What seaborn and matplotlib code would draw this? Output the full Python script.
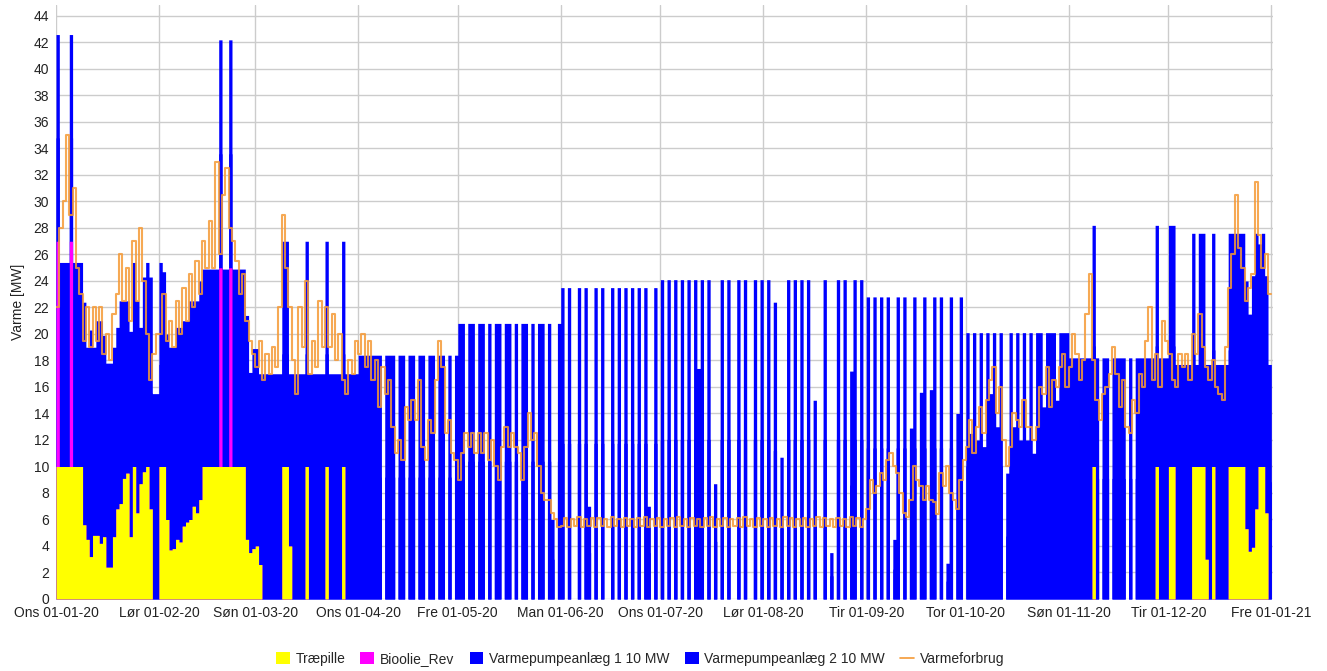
import numpy as np
import pandas as pd
import matplotlib
matplotlib.use("Agg")
import matplotlib.pyplot as plt
import seaborn as sns
from matplotlib.patches import Patch
from matplotlib.lines import Line2D

# Daily heat production and demand for 2020 (366 days), MW
traepille = [
    10, 10, 10, 10, 10, 10, 10, 10, 5.6, 4.5, 3.2, 4.8, 4.8, 4.2, 4.7, 2.4, 2.4, 4.7, 6.8, 7.2, 9.1, 9.5, 4.7, 10, 6.5, 8.7, 9.6, 10, 6.8, 0, 0,
    10, 10, 6, 3.7, 3.8, 4.5, 4.3, 5.5, 5.8, 6, 7, 6.5, 7.5, 10, 10, 10, 10, 10, 10, 10, 10, 10, 10, 10, 10, 10, 4.5, 3.5, 3.8,
    4, 2.6, 0, 0, 0, 0, 0, 0, 10, 10, 4, 0, 0, 0, 0, 10, 0, 0, 0, 0, 0, 10, 0, 0, 0, 0, 10, 0, 0, 0, 0,
    0, 0, 0, 0, 0, 0, 0, 0, 0, 0, 0, 0, 0, 0, 0, 0, 0, 0, 0, 0, 0, 0, 0, 0, 0, 0, 0, 0, 0, 0,
    0, 0, 0, 0, 0, 0, 0, 0, 0, 0, 0, 0, 0, 0, 0, 0, 0, 0, 0, 0, 0, 0, 0, 0, 0, 0, 0, 0, 0, 0, 0,
    0, 0, 0, 0, 0, 0, 0, 0, 0, 0, 0, 0, 0, 0, 0, 0, 0, 0, 0, 0, 0, 0, 0, 0, 0, 0, 0, 0, 0, 0,
    0, 0, 0, 0, 0, 0, 0, 0, 0, 0, 0, 0, 0, 0, 0, 0, 0, 0, 0, 0, 0, 0, 0, 0, 0, 0, 0, 0, 0, 0, 0,
    0, 0, 0, 0, 0, 0, 0, 0, 0, 0, 0, 0, 0, 0, 0, 0, 0, 0, 0, 0, 0, 0, 0, 0, 0, 0, 0, 0, 0, 0, 0,
    0, 0, 0, 0, 0, 0, 0, 0, 0, 0, 0, 0, 0, 0, 0, 0, 0, 0, 0, 0, 0, 0, 0, 0, 0, 0, 0, 0, 0, 0,
    0, 0, 0, 0, 0, 0, 0, 0, 0, 0, 0, 0, 0, 0, 0, 0, 0, 0, 0, 0, 0, 0, 0, 0, 0, 0, 0, 0, 0, 0, 0,
    0, 0, 0, 0, 0, 0, 0, 10, 0, 0, 0, 0, 0, 0, 0, 0, 0, 0, 0, 0, 0, 0, 0, 0, 0, 0, 10, 0, 0, 0,
    10, 10, 0, 0, 0, 0, 0, 10, 10, 10, 10, 3, 0, 10, 0, 0, 0, 0, 10, 10, 10, 10, 10, 5.3, 3.6, 3.9, 6.8, 10, 10, 6.5, 0,
]

# Bio-oil boiler: only a few start-up days
bioolie_days = [0, 4, 49, 52]
bioolie_mw = [17, 17, 15, 15]

vp1 = [
    7.8, 7.7, 7.7, 7.7, 7.8, 7.7, 7.7, 7.7, 8.4, 7.25, 8.55, 7.1, 8.1, 8.4, 7.6, 7.7, 7.7, 7.15, 6.85, 7.65, 6.7, 6.5, 7.75, 7.7, 8, 5.9, 7.35, 7.7, 8.75, 7.75, 7.75,
    7.7, 7.35, 7, 7.65, 7.6, 8, 8.1, 7.75, 7.6, 8.25, 7.75, 8, 8.25, 7.45, 7.45, 7.45, 7.45, 7.45, 8.6, 7.45, 7.45, 8.6, 7.45, 7.45, 7.45, 7.45, 8.45, 6.8, 7.55,
    7.45, 7.2, 8.5, 8.5, 8.5, 8.5, 8.5, 8.5, 8.5, 8.5, 6.5, 8.5, 8.5, 8.5, 8.5, 8.5, 8.5, 8.5, 8.5, 8.5, 8.5, 8.5, 8.5, 8.5, 8.5, 8.5, 8.5, 8.5, 8.5, 8.5, 8.5,
    9.2, 9.2, 9.2, 9.2, 9.2, 9.2, 9.2, 0, 9.2, 9.2, 9.2, 0, 9.2, 9.2, 0, 9.2, 9.2, 0, 9.2, 9.2, 0, 9.2, 9.2, 0, 9.2, 9.2, 0, 9.2, 0, 9.2,
    10.4, 10.4, 0, 10.4, 10.4, 0, 10.4, 10.4, 0, 10.4, 0, 10.4, 10.4, 0, 10.4, 10.4, 0, 10.4, 0, 10.4, 10.4, 0, 10.4, 0, 10.4, 10.4, 0, 10.4, 3, 0, 10.4,
    11.75, 0, 11.75, 0, 0, 11.75, 0, 11.75, 3.5, 0, 11.75, 0, 11.75, 0, 0, 11.75, 0, 11.75, 0, 11.75, 0, 11.75, 0, 11.75, 0, 11.75, 3.5, 0, 11.75, 0,
    12.05, 0, 12.05, 0, 12.05, 0, 12.05, 0, 12.05, 0, 12.05, 8.7, 12.05, 0, 12.05, 0, 4.35, 0, 12.05, 0, 12.05, 0, 0, 12.05, 0, 12.05, 0, 0, 12.05, 0, 12.05,
    0, 12.05, 0, 11.2, 0, 5.35, 0, 12.05, 0, 12.05, 0, 12.05, 0, 12.05, 0, 7.5, 0, 0, 12.05, 0, 1.75, 0, 12.05, 0, 12.05, 0, 8.6, 12.05, 0, 12.05, 0,
    11.4, 0, 11.4, 0, 11.4, 0, 11.4, 0, 2.25, 11.4, 0, 11.4, 0, 6.45, 11.4, 0, 7.8, 11.4, 0, 7.9, 11.4, 0, 11.4, 0, 1.35, 11.4, 0, 7, 11.4, 0,
    10.05, 6.25, 10.05, 6, 10.05, 5.75, 10.05, 7.75, 10.05, 6.5, 10.05, 0, 4.75, 10.05, 6.5, 10.05, 6, 10.05, 6, 10.05, 5.5, 10.05, 10.05, 7.25, 10.05, 10.05, 10.05, 7.5, 10.05, 10.05, 10.05,
    9.1, 9.1, 9.1, 9.1, 9.1, 9.1, 9.1, 9.1, 9.1, 0, 9.1, 9.1, 0, 9.1, 9.1, 9.1, 9.1, 0, 9.1, 0, 9.1, 9.1, 9.1, 9.1, 9.1, 9.1, 9.1, 9.1, 9.1, 9.1,
    9.1, 9.1, 8.85, 8.85, 8.85, 8.85, 8.85, 8.8, 3.85, 8.8, 8.8, 7.35, 8.85, 8.8, 8.85, 8.85, 8.85, 8.85, 8.8, 8.8, 8.8, 8.8, 8.8, 9.35, 8.95, 10.25, 10.4, 8.4, 8.8, 8.95, 8.85,
]

vp2 = [
    7.8, 7.7, 7.7, 7.7, 7.8, 7.7, 7.7, 7.7, 8.4, 7.25, 8.55, 7.1, 8.1, 8.4, 7.6, 7.7, 7.7, 7.15, 6.85, 7.65, 6.7, 6.5, 7.75, 7.7, 8, 5.9, 7.35, 7.7, 8.75, 7.75, 7.75,
    7.7, 7.35, 7, 7.65, 7.6, 8, 8.1, 7.75, 7.6, 8.25, 7.75, 8, 8.25, 7.45, 7.45, 7.45, 7.45, 7.45, 8.6, 7.45, 7.45, 8.6, 7.45, 7.45, 7.45, 7.45, 8.45, 6.8, 7.55,
    7.45, 7.2, 8.5, 8.5, 8.5, 8.5, 8.5, 8.5, 8.5, 8.5, 6.5, 8.5, 8.5, 8.5, 8.5, 8.5, 8.5, 8.5, 8.5, 8.5, 8.5, 8.5, 8.5, 8.5, 8.5, 8.5, 8.5, 8.5, 8.5, 8.5, 8.5,
    9.2, 9.2, 9.2, 9.2, 9.2, 9.2, 9.2, 0, 9.2, 9.2, 9.2, 0, 9.2, 9.2, 0, 9.2, 9.2, 0, 9.2, 9.2, 0, 9.2, 9.2, 0, 9.2, 9.2, 0, 9.2, 0, 9.2,
    10.4, 10.4, 0, 10.4, 10.4, 0, 10.4, 10.4, 0, 10.4, 0, 10.4, 10.4, 0, 10.4, 10.4, 0, 10.4, 0, 10.4, 10.4, 0, 10.4, 0, 10.4, 10.4, 0, 10.4, 3, 0, 10.4,
    11.75, 0, 11.75, 0, 0, 11.75, 0, 11.75, 3.5, 0, 11.75, 0, 11.75, 0, 0, 11.75, 0, 11.75, 0, 11.75, 0, 11.75, 0, 11.75, 0, 11.75, 3.5, 0, 11.75, 0,
    12.05, 0, 12.05, 0, 12.05, 0, 12.05, 0, 12.05, 0, 12.05, 8.7, 12.05, 0, 12.05, 0, 4.35, 0, 12.05, 0, 12.05, 0, 0, 12.05, 0, 12.05, 0, 0, 12.05, 0, 12.05,
    0, 12.05, 0, 11.2, 0, 5.35, 0, 12.05, 0, 12.05, 0, 12.05, 0, 12.05, 0, 7.5, 0, 0, 12.05, 0, 1.75, 0, 12.05, 0, 12.05, 0, 8.6, 12.05, 0, 12.05, 0,
    11.4, 0, 11.4, 0, 11.4, 0, 11.4, 0, 2.25, 11.4, 0, 11.4, 0, 6.45, 11.4, 0, 7.8, 11.4, 0, 7.9, 11.4, 0, 11.4, 0, 1.35, 11.4, 0, 7, 11.4, 0,
    10.05, 6.25, 10.05, 6, 10.05, 5.75, 10.05, 7.75, 10.05, 6.5, 10.05, 0, 4.75, 10.05, 6.5, 10.05, 6, 10.05, 6, 10.05, 5.5, 10.05, 10.05, 7.25, 10.05, 10.05, 10.05, 7.5, 10.05, 10.05, 10.05,
    9.1, 9.1, 9.1, 9.1, 9.1, 9.1, 9.1, 9.1, 9.1, 0, 9.1, 9.1, 0, 9.1, 9.1, 9.1, 9.1, 0, 9.1, 0, 9.1, 9.1, 9.1, 9.1, 9.1, 9.1, 9.1, 9.1, 9.1, 9.1,
    9.1, 9.1, 8.85, 8.85, 8.85, 8.85, 8.85, 8.8, 3.85, 8.8, 8.8, 7.35, 8.85, 8.8, 8.85, 8.85, 8.85, 8.85, 8.8, 8.8, 8.8, 8.8, 8.8, 9.35, 8.95, 10.25, 10.4, 8.4, 8.8, 8.95, 8.85,
]

varmeforbrug = [
    22, 28, 30, 35, 29, 31, 25, 23, 19.5, 22, 19, 22, 19.5, 22, 18.5, 20, 18, 21.5, 23, 26, 22.5, 25, 21, 27, 22.5, 28, 24, 20, 16.5, 18.5, 20,
    20, 23, 19.5, 21, 19, 22.5, 20, 23.5, 21, 24.5, 22, 25.5, 23, 27, 25, 28.5, 25, 33, 26, 30.5, 32.5, 28, 27, 25.5, 23, 24.5, 21, 19.5, 18.5,
    17.5, 19.5, 16.5, 18.5, 17, 19, 17.5, 22, 29, 25, 22, 18, 15.5, 22, 19, 24, 17, 19.5, 17.5, 22.5, 19, 22, 19, 21.5, 18, 20, 16.5, 15.5, 18, 17, 19.5,
    18.5, 20, 17.5, 19.5, 16.5, 18, 14.5, 17.5, 15.5, 16.5, 13, 11, 12, 10.5, 14.5, 13.5, 15, 13.5, 16.5, 11.5, 10.5, 13.5, 12.5, 16.5, 19.5, 17.5, 12.5, 13.5, 11, 10.5,
    9, 11, 12.5, 11.5, 12.5, 11, 12.5, 11, 12.5, 10.5, 12, 10, 9, 11.5, 13, 11.5, 12.5, 11.5, 11, 9, 11.5, 14, 12, 12.5, 10, 8, 7.5, 7.5, 6.5, 6, 5.4,
    5.5, 6.1, 5.4, 6.0, 5.5, 6.2, 5.4, 6.0, 5.5, 6.1, 5.4, 6.1, 5.5, 6.0, 5.4, 6.2, 5.5, 6.0, 5.4, 6.1, 5.5, 6.0, 5.4, 6.1, 5.5, 6.2, 5.4, 6.0, 5.5, 6.1,
    5.4, 6.0, 5.5, 6.1, 5.4, 6.2, 5.5, 6.0, 5.4, 6.1, 5.5, 6.0, 5.4, 6.1, 5.5, 6.2, 5.4, 6.0, 5.5, 6.1, 5.4, 6.0, 5.5, 6.1, 5.4, 6.2, 5.5, 6.0, 5.4, 6.1, 5.5,
    6.0, 5.4, 6.1, 5.5, 6.0, 5.4, 6.2, 5.5, 6.1, 5.4, 6.0, 5.5, 6.1, 5.4, 6.0, 5.5, 6.2, 5.4, 6.1, 5.5, 6.0, 5.4, 6.1, 5.5, 6.0, 5.4, 6.2, 5.5, 6.1, 5.4, 6.0,
    6.8, 9, 8, 8.5, 9.5, 9, 10.5, 11, 10, 9.5, 8, 6.5, 6.2, 7.5, 10, 9, 8.5, 7.5, 8.5, 7.5, 7.3, 6.4, 9.5, 8.5, 10, 8, 7.5, 6.8, 9, 10.5,
    11.5, 13.5, 11, 13, 14.5, 12.5, 15, 16.5, 17.5, 14, 16, 12, 10, 11.5, 14, 13.5, 13, 15, 13, 13, 12, 13, 16, 15.5, 17.5, 14.5, 16.5, 16, 17.5, 18.5, 16,
    17.5, 20, 18.5, 16.5, 18, 21.5, 24.5, 18, 15, 13.5, 15.5, 16, 17, 19, 17, 14.5, 16.5, 13, 12.5, 15, 14, 17, 16, 19.5, 22, 16.5, 18.5, 16, 21, 19.5,
    18.5, 16.5, 16, 18.5, 17.5, 18.5, 16.5, 20, 18.5, 21.5, 19, 17.5, 16.5, 18, 16, 15.5, 15, 19, 23.5, 26, 30.5, 26.5, 25, 22.5, 23.5, 24.5, 31.5, 27.5, 25, 26, 23,
]

month_labels = ["Ons 01-01-20", "Lør 01-02-20", "Søn 01-03-20", "Ons 01-04-20", "Fre 01-05-20",
                "Man 01-06-20", "Ons 01-07-20", "Lør 01-08-20", "Tir 01-09-20", "Tor 01-10-20",
                "Søn 01-11-20", "Tir 01-12-20", "Fre 01-01-21"]
series_names = ["Træpille", "Bioolie_Rev", "Varmepumpeanlæg 1 10 MW",
                "Varmepumpeanlæg 2 10 MW", "Varmeforbrug"]
series_colors = ["#FFFF00", "#FF00FF", "#0000FF", "#0000FF", "#F59A36"]

n_days = len(pd.date_range("2020-01-01", "2020-12-31", freq="D"))
for name, arr in [("traepille", traepille), ("vp1", vp1), ("vp2", vp2), ("varmeforbrug", varmeforbrug)]:
    if len(arr) != n_days:
        raise ValueError(f"{name}: {len(arr)} values")

bioolie = np.zeros(n_days)
bioolie[bioolie_days] = bioolie_mw

sns.set_theme(style="white")
plt.rcParams["font.family"] = ["Liberation Sans", "DejaVu Sans"]

fig = plt.figure(figsize=(13.27, 6.71), dpi=100)
ax = fig.add_axes([56 / 1327, 72 / 671, 1217 / 1327, 594 / 671])

edges = np.arange(n_days + 1)
layers = [np.asarray(traepille, float), bioolie, np.asarray(vp1, float), np.asarray(vp2, float)]
stack_tops = np.cumsum(layers, axis=0)

# Paint the stack from the top layer down so neighbouring bands share no seam
for top, color in zip(stack_tops[::-1], series_colors[:4][::-1]):
    ax.fill_between(edges, 0, np.append(top, top[-1]), step="post",
                    color=color, linewidth=0, zorder=2)

demand = pd.DataFrame({"dag": edges, "MW": np.append(varmeforbrug, varmeforbrug[-1])})
sns.lineplot(data=demand, x="dag", y="MW", drawstyle="steps-post", color=series_colors[4],
             linewidth=1.5, alpha=0.85, ax=ax, legend=False, zorder=3)

month_starts = pd.date_range("2020-01-01", "2021-01-01", freq="MS")
month_pos = (month_starts - month_starts[0]).days.to_numpy()

ax.set_xlim(0, 366.5)
ax.set_ylim(0, 44.83)
ax.set_xticks(month_pos)
ax.set_xticklabels(month_labels)
ax.set_yticks(np.arange(0, 45, 2))
ax.grid(True, color="#CCCCCC", linewidth=1)
ax.set_axisbelow(True)
for s in ax.spines.values():
    s.set_visible(False)
ax.tick_params(axis="x", length=4, width=1, color="#CCCCCC", pad=1, labelsize=10, labelcolor="#222222")
ax.tick_params(axis="y", length=0, pad=5, labelsize=10, labelcolor="#222222")
ax.set_xlabel("")
ax.set_ylabel("Varme [MW]", fontsize=10, color="#222222")
ax.yaxis.set_label_coords(-31 / 1217, 0.5)

handles = [Patch(facecolor=c, edgecolor="none") for c in series_colors[:4]]
handles.append(Line2D([0], [0], color=series_colors[4], linewidth=1.2))
fig.legend(handles, series_names, loc="center", bbox_to_anchor=(640 / 1327, 1 - 659 / 671),
           ncol=5, frameon=False, fontsize=10, handlelength=1.0, handleheight=1.0,
           handletextpad=0.4, columnspacing=1.1)

fig.savefig("out.png", dpi=100)
